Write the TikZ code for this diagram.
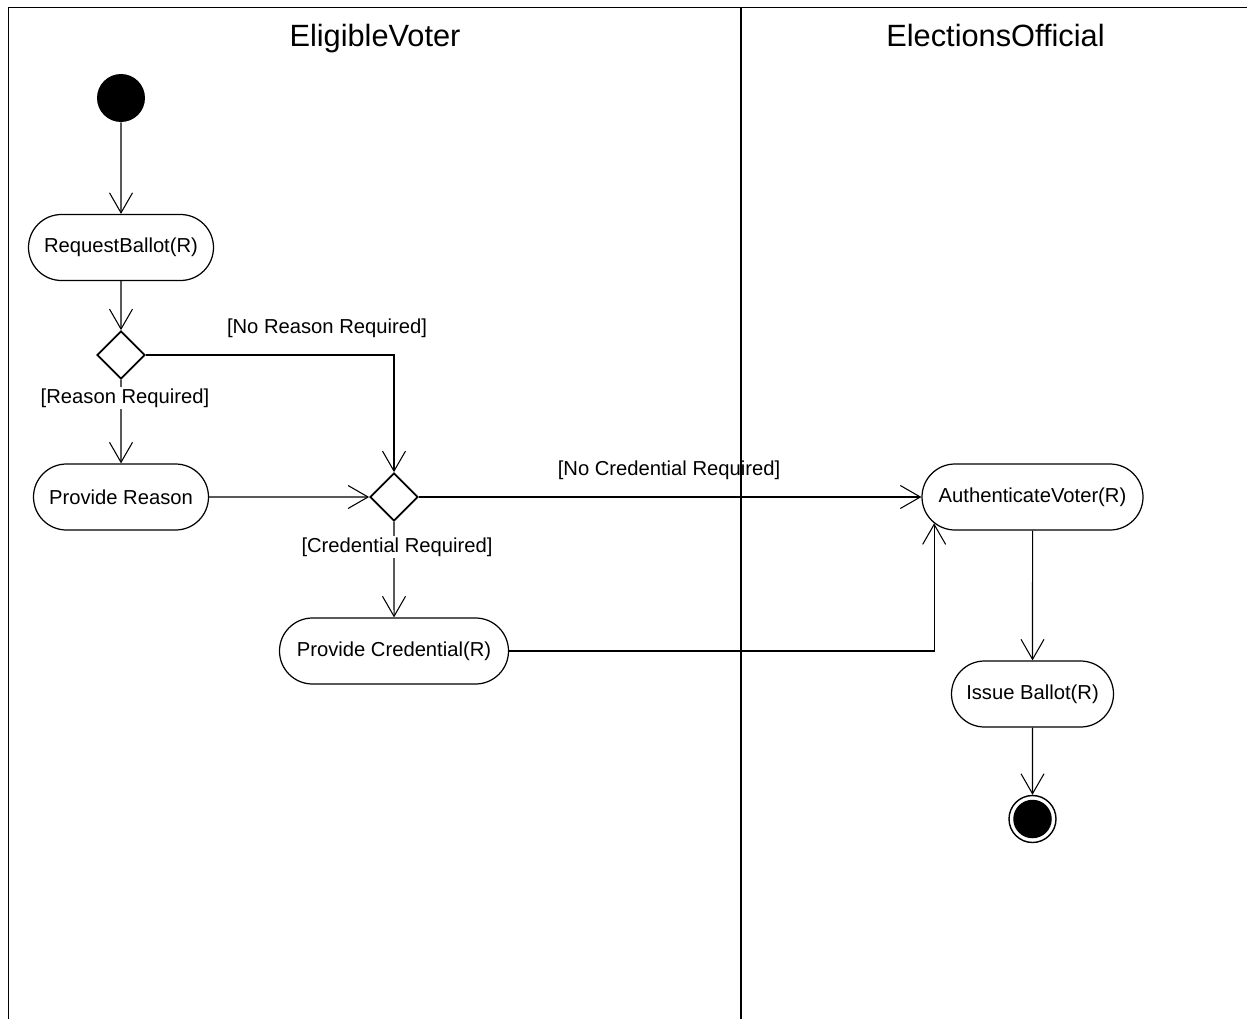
\documentclass[tikz,border=0pt]{standalone}
\usepackage{fontspec}
\setmainfont{Liberation Sans}
\usepackage{tikz}
\usetikzlibrary{shapes.geometric, shapes.misc, arrows.meta, positioning}
\tikzset{
    act/.style={rounded rectangle, draw=black, line width=0.7pt,
                fill=white, minimum height=1.32cm, inner xsep=0pt,
                font=\fontsize{11.5}{13}\selectfont},
    dec/.style={diamond, draw=black, line width=1pt, fill=white,
                minimum width=0.96cm, minimum height=0.96cm,
                inner sep=0pt, shape aspect=1},
    startnode/.style={circle, fill=black, minimum size=0.96cm, inner sep=0pt},
    endnode/.style={circle, draw=black, line width=0.8pt, fill=white,
                minimum size=0.94cm, inner sep=0pt,
                path picture={\fill[black] (path picture bounding box.center) circle (0.385cm);}},
    guard/.style={inner sep=1pt, font=\fontsize{11.5}{13}\selectfont},
    lanetitle/.style={anchor=base, font=\fontsize{17.5}{20}\selectfont},
    lane/.style={line width=1.1pt, draw=black},
    arr/.style={-{Straight Barb[length=4mm, width=4.6mm]}, line width=0.6pt, draw=black}
}
\begin{document}
\begin{tikzpicture}
\useasboundingbox (0,0) rectangle (24.94,-20.38);

% ── Swimlanes ─────────────────────────────────────────────────────────
\draw[lane] (0.17,-20.38) -- (0.17,-0.15) -- (24.94,-0.15);
\draw[lane] (14.82,-0.15) -- (14.82,-20.38);
\node[lanetitle] at (7.50,-0.94)  (voter)    {EligibleVoter};
\node[lanetitle] at (19.91,-0.94) (official) {ElectionsOfficial};

% ── EligibleVoter lane ────────────────────────────────────────────────
\node[startnode] at (2.42,-1.96) (init) {};
\node[act, minimum width=3.70cm] at (2.42,-4.95)  (req)    {RequestBallot(R)};
\node[dec] at (2.42,-7.10) (d1) {};
\node[act, minimum width=3.50cm] at (2.42,-9.94)  (reason) {Provide Reason};
\node[dec] at (7.88,-9.94) (d2) {};
\node[act, minimum width=4.58cm] at (7.88,-13.02) (cred)   {Provide Credential(R)};

% ── ElectionsOfficial lane ────────────────────────────────────────────
\node[act, minimum width=4.42cm] at (20.65,-9.94)  (auth)  {AuthenticateVoter(R)};
\node[act, minimum width=3.24cm] at (20.65,-13.88) (issue) {Issue Ballot(R)};
\node[endnode] at (20.65,-16.38) (final) {};

% ── Flow arrows ───────────────────────────────────────────────────────
\draw[arr] (init) -- (req);
\draw[arr] (req)  -- (d1);
\draw[arr] (d1)   -- (reason);
\draw[arr] (d1.east) -| (d2.north);
\draw[arr] (reason) -- (d2);
\draw[arr] (d2)   -- (auth);
\draw[arr] (d2)   -- (cred);
\draw[arr] (cred.east) -| (auth.195);
\draw[arr] (auth) -- (issue);
\draw[arr] (issue) -- (final);

% ── Guards ────────────────────────────────────────────────────────────
\node[guard] at (6.54,-6.56)  (gnoreason) {[No Reason Required]};
\node[guard, fill=white] at (2.50,-7.96)  (greason) {[Reason Required]};
\node[guard] at (13.38,-9.40) (gnocred) {[No Credential Required]};
\node[guard, fill=white] at (7.94,-10.94) (gcred) {[Credential Required]};
\end{tikzpicture}
\end{document}
